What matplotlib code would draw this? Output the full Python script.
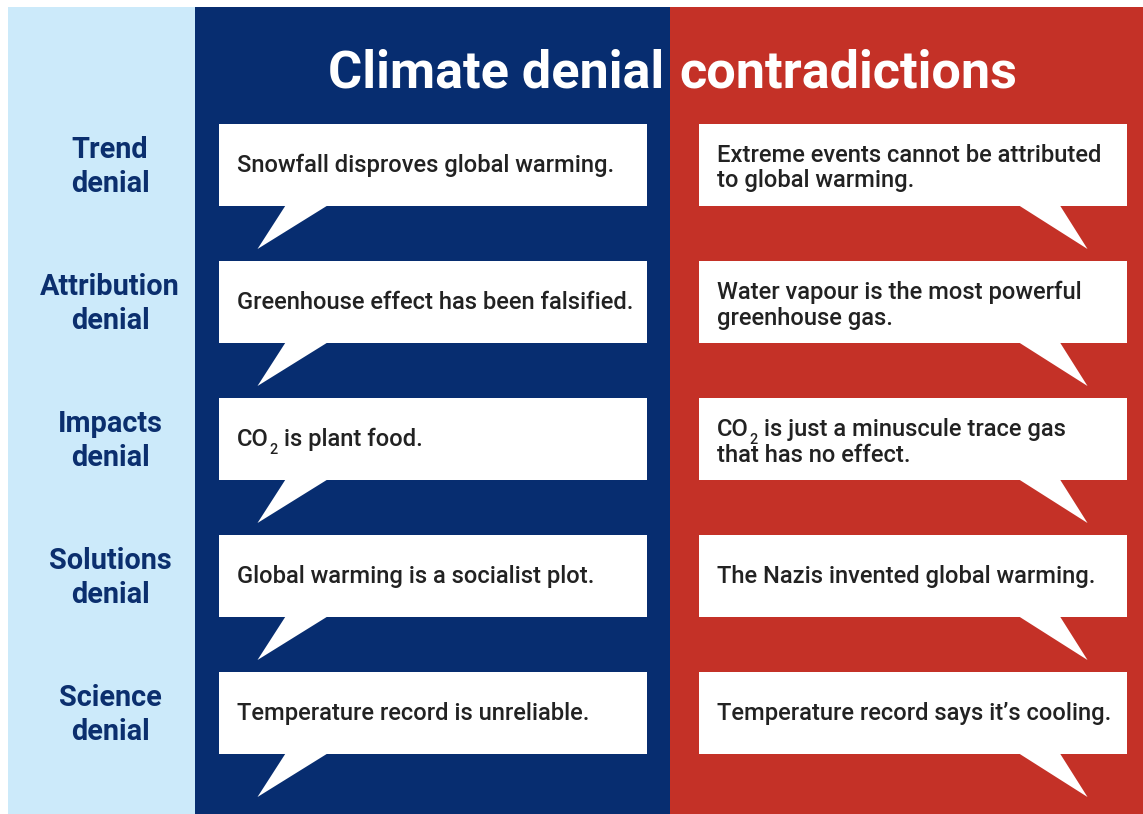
import matplotlib
matplotlib.use("Agg")
import matplotlib.pyplot as plt
from matplotlib.patches import Rectangle, Polygon

# ---- data ----
title_left = "Climate denial"
title_right = "contradictions"
categories = [["Trend", "denial"], ["Attribution", "denial"], ["Impacts", "denial"],
              ["Solutions", "denial"], ["Science", "denial"]]
# "CO_2" marks a subscript 2
left_claims = [
    ["Snowfall disproves global warming."],
    ["Greenhouse effect has been falsified."],
    ["CO_2 is plant food."],
    ["Global warming is a socialist plot."],
    ["Temperature record is unreliable."],
]
right_claims = [
    ["Extreme events cannot be attributed", "to global warming."],
    ["Water vapour is the most powerful", "greenhouse gas."],
    ["CO_2 is just a minuscule trace gas", "that has no effect."],
    ["The Nazis invented global warming."],
    ["Temperature record says it\u2019s cooling."],
]

# ---- style ----
LIGHT = "#cceafa"
DARK = "#072d70"
RED = "#c43127"
TEXT = "#222222"
LABEL = "#0b2f6e"
FS = 17.1

W, H = 1143, 814
fig = plt.figure(figsize=(W / 100, H / 100), dpi=100)
ax = fig.add_axes([0, 0, 1, 1])
ax.set_xlim(0, W)
ax.set_ylim(H, 0)
ax.axis("off")
renderer = fig.canvas.get_renderer()

top = 7
ax.add_patch(Rectangle((8, top), 187, H - top, color=LIGHT, lw=0))
ax.add_patch(Rectangle((195, top), 475, H - top, color=DARK, lw=0))
ax.add_patch(Rectangle((670, top), 473, H - top, color=RED, lw=0))

ax.text(664, 88, title_left, color="white", fontsize=37.6, fontweight="bold",
        family="Roboto", ha="right", va="baseline")
ax.text(679, 88, title_right, color="white", fontsize=37.6, fontweight="bold",
        family="Roboto", ha="left", va="baseline")


def draw_line(x, y, line):
    """Draw one line of bubble text at baseline y, handling the CO_2 subscript."""
    kw = dict(color=TEXT, fontsize=FS, fontweight="medium", family="Roboto",
              ha="left", va="baseline")
    if "_2" in line:
        head, tail = line.split("_2", 1)
        t = ax.text(x, y, head, **kw)
        x1 = t.get_window_extent(renderer).x1
        kw2 = dict(kw, fontsize=FS * 0.6)
        s = ax.text(x1 + 0.5, y + 8.3, "2", **kw2)
        x2 = s.get_window_extent(renderer).x1
        ax.text(x2, y, tail, **kw)
    else:
        ax.text(x, y, line, **kw)


row0, step, bh = 124, 137, 82
tail_h = 43
for i, (cat, lc, rc) in enumerate(zip(categories, left_claims, right_claims)):
    y0 = row0 + i * step
    # category label
    for j, word in enumerate(cat):
        ax.text(110, y0 + 33.8 + j * 34.6, word, color=LABEL, fontsize=20.8,
                fontweight="bold", family="Roboto", ha="center", va="baseline")
    # bubbles
    for bx, tail, lines in ((219, (285.5, 327.5, 257.5), lc),
                            (699, (1019, 1060, 1087.5), rc)):
        ax.add_patch(Rectangle((bx, y0), 428, bh, color="white", lw=0))
        ax.add_patch(Polygon([(tail[0], y0 + bh - 0.5), (tail[1], y0 + bh - 0.5),
                              (tail[2], y0 + bh + tail_h)], closed=True,
                             color="white", lw=0))
        if len(lines) == 1:
            draw_line(bx + 18, y0 + 48, lines[0])
        else:
            draw_line(bx + 18, y0 + 38, lines[0])
            draw_line(bx + 18, y0 + 63.5, lines[1])

fig.savefig("out.png", dpi=100)
